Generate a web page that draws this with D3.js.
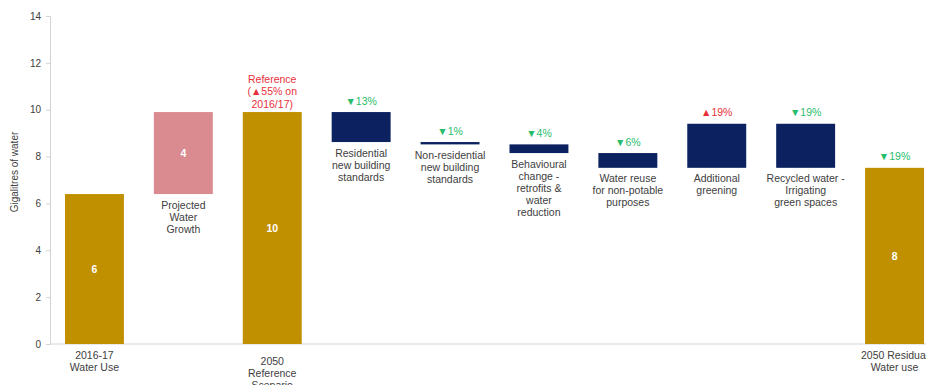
<!DOCTYPE html>
<html>
<head>
<meta charset="utf-8">
<script src="https://cdn.jsdelivr.net/npm/d3@7/dist/d3.min.js"></script>
<style>
  html, body { margin: 0; padding: 0; background: #fff; }
  svg { display: block; font-family: "Liberation Sans", Arial, sans-serif; }
</style>
</head>
<body>
<svg id="chart" width="926" height="385"></svg>
<script>
// Waterfall of Gigalitres of water, 2016-17 to 2050
const categories = [
  "2016-17 Water Use",
  "Projected Water Growth",
  "2050 Reference Scenario",
  "Residential new building standards",
  "Non-residential new building standards",
  "Behavioural change - retrofits & water reduction",
  "Water reuse for non-potable purposes",
  "Additional greening",
  "Recycled water - Irrigating green spaces",
  "2050 Residual Water use"
];
const labelLines = [
  ["2016-17", "Water Use"],
  ["Projected", "Water", "Growth"],
  ["2050", "Reference", "Scenario"],
  ["Residential", "new building", "standards"],
  ["Non-residential", "new building", "standards"],
  ["Behavioural", "change -", "retrofits &", "water", "reduction"],
  ["Water reuse", "for non-potable", "purposes"],
  ["Additional", "greening"],
  ["Recycled water -", "Irrigating", "green spaces"],
  ["2050 Residual", "Water use"]
];
// "total" bars start at zero; "delta" bars float from the running total
const kinds = ["total", "delta", "total", "delta", "delta", "delta", "delta", "delta", "delta", "total"];
const values = [6.4, 3.5, 9.9, -1.28, -0.1, -0.37, -0.63, 1.88, -1.88, 7.52];
const pctChange = [null, null, 55, -13, -1, -4, -6, 19, -19, -19];
const showValue = [true, true, true, false, false, false, false, false, false, true];
const yTicks = [0, 2, 4, 6, 8, 10, 12, 14];

const colors = {
  total: "#c09000",
  growth: "#d98b90",
  saving: "#0b2160",
  up: "#e8303a",
  down: "#27bd6b",
  text: "#404040",
  axis: "#d4d4d4"
};

const svg = d3.select("#chart");
const margin = { left: 50, top: 16, bottom: 344 };

const x = d3.scaleBand()
  .domain(categories)
  .range([50, 939])
  .paddingInner(0.337)
  .paddingOuter(0.1685);

const y = d3.scaleLinear().domain([0, 14]).range([344, 16]);

// running totals for the waterfall
let running = 0;
const bars = categories.map((c, i) => {
  let y0, y1;
  if (kinds[i] === "total") {
    y0 = 0; y1 = values[i]; running = values[i];
  } else {
    y0 = running; y1 = running + values[i]; running = y1;
  }
  let fill;
  if (kinds[i] === "total") fill = colors.total;
  else if (i === 1) fill = colors.growth;
  else fill = colors.saving;
  return { c, i, lo: Math.min(y0, y1), hi: Math.max(y0, y1), v: values[i], fill };
});

// y axis
const yAxis = d3.axisLeft(y).tickValues(yTicks).tickSize(4).tickPadding(5).tickFormat(d3.format("d"));
const gy = svg.append("g").attr("transform", "translate(50,0)").call(yAxis);
gy.select(".domain").attr("stroke", colors.axis);
gy.selectAll(".tick line").attr("stroke", colors.axis);
gy.selectAll(".tick text").attr("fill", colors.text).style("font-size", "10px")
  .style("font-family", "'Liberation Sans', Arial, sans-serif");

svg.append("text")
  .attr("transform", "translate(14,172) rotate(-90)")
  .attr("text-anchor", "middle")
  .attr("dy", "0.35em")
  .attr("fill", colors.text)
  .style("font-size", "10px")
  .text("Gigalitres of water");

// baseline
svg.append("line")
  .attr("x1", 50).attr("x2", 926)
  .attr("y1", y(0)).attr("y2", y(0))
  .attr("stroke", colors.axis);

// bars
svg.append("g").selectAll("rect").data(bars).join("rect")
  .attr("x", d => x(d.c))
  .attr("width", x.bandwidth())
  .attr("y", d => y(d.hi))
  .attr("height", d => Math.max(2, y(d.lo) - y(d.hi)))
  .attr("fill", d => d.fill);

// values inside bars
svg.append("g").selectAll("text").data(bars.filter(d => showValue[d.i])).join("text")
  .attr("x", d => x(d.c) + x.bandwidth() / 2)
  .attr("y", d => (y(d.lo) + y(d.hi)) / 2)
  .attr("dy", "0.35em")
  .attr("text-anchor", "middle")
  .attr("fill", "#fff")
  .style("font-size", "10.5px")
  .style("font-weight", "bold")
  .text(d => d3.format(".0f")(Math.abs(d.v)));

// category labels: totals sit under the axis, floating bars carry theirs underneath
const lineH = 12;
bars.forEach(d => {
  const lines = labelLines[d.i];
  const cx = x(d.c) + x.bandwidth() / 2;
  let top;
  if (kinds[d.i] === "total") top = d.i === 2 ? 361 : 355;
  else top = y(d.lo) + 11;
  const t = svg.append("text")
    .attr("text-anchor", "middle")
    .attr("fill", colors.text)
    .style("font-size", "10.5px");
  lines.forEach((ln, k) => {
    t.append("tspan").attr("x", cx).attr("y", top + k * lineH).attr("dy", "0.35em").text(ln);
  });
});

// percentage change markers above the bars
bars.forEach(d => {
  const p = pctChange[d.i];
  if (p === null) return;
  const cx = x(d.c) + x.bandwidth() / 2;
  const col = p > 0 ? colors.up : colors.down;
  const arrow = p > 0 ? "\u25B2" : "\u25BC";
  if (d.i === 2) {
    const t = svg.append("text").attr("text-anchor", "middle").attr("fill", col).style("font-size", "10.5px");
    const lines = ["Reference", "(" + arrow + Math.abs(p) + "% on", "2016/17)"];
    lines.forEach((ln, k) => {
      t.append("tspan").attr("x", cx).attr("y", y(d.hi) - 33 + k * 12.5).attr("dy", "0.35em").text(ln);
    });
  } else {
    svg.append("text")
      .attr("x", cx)
      .attr("y", y(d.hi) - 11)
      .attr("dy", "0.35em")
      .attr("text-anchor", "middle")
      .attr("fill", col)
      .style("font-size", "10.5px")
      .text(arrow + Math.abs(p) + "%");
  }
});
</script>
</body>
</html>
